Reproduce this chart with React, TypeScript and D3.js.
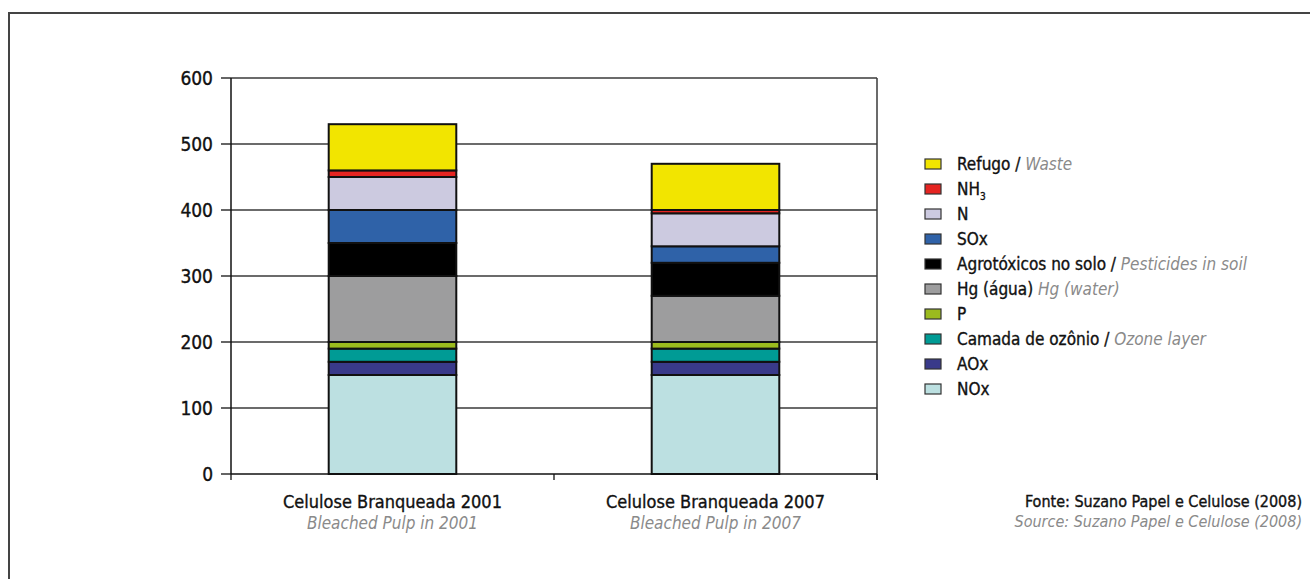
import * as d3 from "d3";

const W = 1310;
const H = 579;

const categories = ["Celulose Branqueada 2001", "Celulose Branqueada 2007"];
const categoriesEn = ["Bleached Pulp in 2001", "Bleached Pulp in 2007"];

// stacking order, bottom to top
const seriesKeys = ["NOx", "AOx", "Camada", "P", "Hg", "Agro", "SOx", "N", "NH3", "Refugo"];
const seriesPt = ["NOx", "AOx", "Camada de ozônio / ", "P", "Hg (água) ", "Agrotóxicos no solo / ", "SOx", "N", "NH", "Refugo / "];
const seriesEn = ["", "", "Ozone layer", "", "Hg (water)", "Pesticides in soil", "", "", "", "Waste"];
const seriesColors = ["#bce0e1", "#393a8a", "#009b95", "#9bbb1e", "#9d9d9e", "#000000", "#2f62a8", "#cccae0", "#e52421", "#f2e500"];

const values2001 = [150, 20, 20, 10, 100, 50, 50, 50, 10, 70];
const values2007 = [150, 20, 20, 10, 70, 50, 25, 50, 5, 70];

const yTicks = [0, 100, 200, 300, 400, 500, 600];

const FONT = "'Liberation Sans Narrow', 'DejaVu Sans Condensed', 'Liberation Sans', sans-serif";
const M = { left: 231, right: 877, top: 78, bottom: 474 };
// a thin outline gives the condensed font a bit more weight, like the original
const ink = { stroke: "#111", strokeWidth: 0.35 };

export default function App() {
  const rows = categories.map((c, i) => {
    const vals = i === 0 ? values2001 : values2007;
    const r: Record<string, any> = { cat: c };
    seriesKeys.forEach((k, j) => (r[k] = vals[j]));
    return r;
  });
  const stacked = d3.stack<any>().keys(seriesKeys)(rows);

  const x = d3.scaleBand().domain(categories).range([M.left, M.right]).padding(0);
  const y = d3.scaleLinear().domain([0, 600]).range([M.bottom, M.top]);
  const barW = x.bandwidth() * 0.395;

  const legendKeys = [...seriesKeys].reverse();

  return (
    <svg width={W} height={H} style={{ position: "absolute", left: 0, top: 0, background: "#fff" }} fontFamily={FONT}>
      {/* outer frame */}
      <path d={`M9,${H} V13 H${W}`} fill="none" stroke="#444" strokeWidth={2} />

      {/* gridlines */}
      {yTicks.slice(1).map((t) => (
        <line key={t} x1={M.left} x2={M.right} y1={y(t)} y2={y(t)} stroke="#3a3a3a" strokeWidth={1.3} />
      ))}
      <line x1={M.right} x2={M.right} y1={M.top} y2={M.bottom + 6} stroke="#3a3a3a" strokeWidth={1.5} />

      {/* bars */}
      {stacked.map((s, si) =>
        s.map((d, ci) => (
          <rect
            key={`${si}-${ci}`}
            x={(x(categories[ci]) as number) + (x.bandwidth() - barW) / 2}
            y={y(d[1])}
            width={barW}
            height={y(d[0]) - y(d[1])}
            fill={seriesColors[si]}
            stroke="#111"
            strokeWidth={2}
          />
        ))
      )}

      {/* y axis */}
      <line x1={M.left} x2={M.left} y1={M.top} y2={M.bottom} stroke="#111" strokeWidth={1.5} />
      {yTicks.map((t) => (
        <g key={t}>
          <line x1={M.left - 10} x2={M.left} y1={y(t)} y2={y(t)} stroke="#111" strokeWidth={1.3} />
          <text x={213} y={y(t)} dy="0.36em" textAnchor="end" fontSize={19} fill="#111" {...ink}>
            {t}
          </text>
        </g>
      ))}

      {/* x axis */}
      <line x1={M.left} x2={M.right} y1={M.bottom} y2={M.bottom} stroke="#111" strokeWidth={1.5} />
      {[M.left, x(categories[1]) as number, M.right].map((tx, i) => (
        <line key={i} x1={tx} x2={tx} y1={M.bottom} y2={M.bottom + 6} stroke="#111" strokeWidth={1.3} />
      ))}
      {categories.map((c, i) => {
        const cx = (x(c) as number) + x.bandwidth() / 2;
        return (
          <g key={c}>
            <text x={cx} y={508} textAnchor="middle" fontSize={18} fill="#111" {...ink}>
              {c}
            </text>
            <text x={cx} y={529} textAnchor="middle" fontSize={17} fill="#8a8a8a" fontStyle="italic">
              {categoriesEn[i]}
            </text>
          </g>
        );
      })}

      {/* legend */}
      {legendKeys.map((k, i) => {
        const si = seriesKeys.indexOf(k);
        const ly = 164 + i * 25;
        return (
          <g key={k}>
            <rect x={925} y={ly - 5} width={16} height={10} fill={seriesColors[si]} stroke="#333" strokeWidth={1.2} />
            <text x={957} y={ly} dy="0.36em" fontSize={17} fill="#111" {...ink}>
              {seriesPt[si]}
              {k === "NH3" && (
                <tspan fontSize={10} dy="5">
                  3
                </tspan>
              )}
              {seriesEn[si] && (
                <tspan fill="#8a8a8a" stroke="none" fontStyle="italic">
                  {seriesEn[si]}
                </tspan>
              )}
            </text>
          </g>
        );
      })}

      {/* source */}
      <text x={1302} y={507} textAnchor="end" fontSize={16} fill="#111" {...ink}>
        Fonte: Suzano Papel e Celulose (2008)
      </text>
      <text x={1302} y={527} textAnchor="end" fontSize={16} fill="#8a8a8a" fontStyle="italic">
        Source: Suzano Papel e Celulose (2008)
      </text>
    </svg>
  );
}
